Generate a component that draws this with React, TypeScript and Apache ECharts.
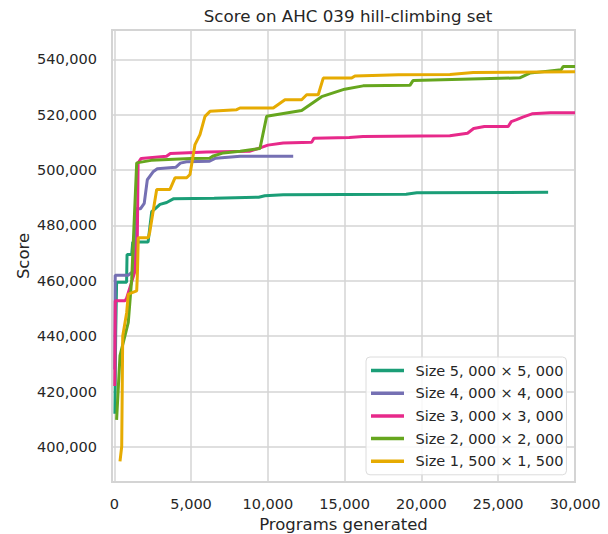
import React, { useEffect, useRef } from "react";
import * as echarts from "echarts";

const titleText = "Score on AHC 039 hill-climbing set";
const xTicks = [0, 5000, 10000, 15000, 20000, 25000, 30000];
const yTicks = [400000, 420000, 440000, 460000, 480000, 500000, 520000, 540000];

const names = [
  "Size 5, 000 × 5, 000",
  "Size 4, 000 × 4, 000",
  "Size 3, 000 × 3, 000",
  "Size 2, 000 × 2, 000",
  "Size 1, 500 × 1, 500",
];
const colors = ["#1b9e77", "#7570b3", "#e7298a", "#66a61e", "#e6ab02"];

const size5000 = [
  [40, 412000], [90, 441000], [150, 459500], [800, 459500], [830, 469500],
  [1130, 469500], [1200, 474000], [2200, 474000], [2435, 485000], [2650, 486000],
  [2975, 487600], [3411, 488300], [3841, 489600], [6500, 489800], [9400, 490200],
  [9800, 490700], [11000, 491100], [19000, 491300], [19700, 491800], [28250, 492000],
];
const size4000 = [
  [30, 428000], [60, 462000], [900, 462000], [1250, 463500], [1400, 486000],
  [1700, 486000], [1950, 488000], [2150, 496500], [2550, 499500], [2800, 500500],
  [4000, 501000], [4300, 502500], [4700, 503000], [6200, 503200], [6600, 504300],
  [8200, 505000], [11650, 505000],
];
const size3000 = [
  [30, 422000], [60, 452800], [700, 452800], [800, 453700], [1350, 463500],
  [1500, 476000], [1550, 502600], [1750, 504200], [3400, 505000], [3650, 506000],
  [6000, 506500], [8800, 506800], [9500, 508000], [10000, 509000], [11000, 509800],
  [12850, 510000], [13000, 511500], [15300, 511800], [16200, 512100], [21850, 512400],
  [23000, 513300], [23400, 515000], [24100, 515700], [25650, 515700], [25850, 517500],
  [26200, 518200], [26600, 519100], [27200, 520300], [28400, 520700], [30000, 520700],
];
const size2000 = [
  [150, 409800], [371, 433000], [911, 445000], [1133, 460600], [1458, 502600],
  [2400, 503500], [5000, 504200], [6200, 504300], [6400, 505000], [7100, 506200],
  [8200, 506800], [9485, 507800], [9921, 519400], [12200, 521500], [13500, 526500],
  [15000, 529200], [16200, 530400], [19250, 530600], [19450, 532300], [26400, 533300],
  [27060, 535000], [29100, 536200], [29230, 537400], [30000, 537400],
];
const size1500 = [
  [371, 394800], [482, 400200], [547, 440000], [807, 448600], [911, 455200],
  [1458, 456400], [1500, 461800], [1562, 475600], [2213, 475600], [2300, 477400],
  [2760, 493000], [3626, 493000], [3952, 497200], [4713, 497200], [4928, 498400],
  [5254, 509200], [5579, 512800], [5905, 519400], [6230, 521200], [7968, 521800],
  [8183, 522400], [10351, 522400], [11113, 525400], [12200, 525400], [12525, 527200],
  [13280, 527200], [13606, 533200], [15455, 533200], [15670, 534000], [18500, 534400],
  [21854, 534500], [23371, 535200], [30000, 535500],
];
const seriesData = [size5000, size4000, size3000, size2000, size1500];

const FONT = "DejaVu Sans";
const TXT = "#262626";
const GRIDC = "#d4d4d4";

export default function App() {
  const ref = useRef<HTMLDivElement>(null);
  useEffect(() => {
    if (!ref.current) return;
    const chart = echarts.init(ref.current, undefined, { renderer: "svg" });
    const fmt = (v: number) => Math.round(v).toLocaleString("en-US");
    chart.setOption({
      animation: false,
      backgroundColor: "#ffffff",
      textStyle: { fontFamily: FONT, color: TXT },
      title: {
        text: titleText,
        left: 343,
        textAlign: "center",
        top: 2,
        textStyle: { fontFamily: FONT, fontSize: 16.7, fontWeight: "normal", color: TXT },
      },
      grid: {
        left: 112,
        right: 33,
        top: 30,
        bottom: 52,
        containLabel: false,
        outerBoundsMode: "none",
        show: true,
        borderColor: GRIDC,
        borderWidth: 2,
        backgroundColor: "#ffffff",
      },
      xAxis: {
        type: "value",
        min: -150,
        max: 30000,
        name: "Programs generated",
        nameLocation: "middle",
        nameGap: 31,
        nameTextStyle: { fontFamily: FONT, fontSize: 16.5, color: TXT },
        axisLine: { show: false },
        axisTick: { show: false, customValues: xTicks },
        axisLabel: {
          customValues: xTicks,
          formatter: fmt,
          margin: 14,
          fontFamily: FONT,
          fontSize: 14.5,
          color: TXT,
        },
        splitLine: { show: true, lineStyle: { color: GRIDC, width: 1.5 } },
      },
      yAxis: {
        type: "value",
        min: 387370,
        max: 550570,
        name: "Score",
        nameLocation: "middle",
        nameGap: 80,
        nameRotate: 90,
        nameMoveOverlap: false,
        nameTextStyle: { fontFamily: FONT, fontSize: 16.5, color: TXT },
        axisLine: { show: false },
        axisTick: { show: false, customValues: yTicks },
        axisLabel: {
          customValues: yTicks,
          formatter: fmt,
          margin: 15,
          fontFamily: FONT,
          fontSize: 14.5,
          color: TXT,
        },
        splitLine: { show: true, lineStyle: { color: GRIDC, width: 1.5 } },
      },
      legend: {
        orient: "vertical",
        left: 366,
        top: 357,
        padding: [5, 3, 5, 5],
        itemWidth: 33,
        itemHeight: 3.5,
        itemGap: 5.7,
        icon: "rect",
        backgroundColor: "rgba(255,255,255,0.85)",
        borderColor: "#dcdcdc",
        borderWidth: 1,
        borderRadius: 4,
        textStyle: {
          fontFamily: FONT,
          fontSize: 14.5,
          color: TXT,
          lineHeight: 17,
          padding: [0, 0, 0, 6.5],
        },
        data: names,
      },
      series: seriesData.map((d, i) => ({
        name: names[i],
        type: "line",
        data: d,
        showSymbol: false,
        symbol: "none",
        color: colors[i],
        lineStyle: { width: 3, color: colors[i] },
        z: 2 + i,
      })),
    });
    return () => chart.dispose();
  }, []);
  return (
    <div
      ref={ref}
      style={{ position: "fixed", left: 0, top: 0, width: 608, height: 534 }}
    />
  );
}
